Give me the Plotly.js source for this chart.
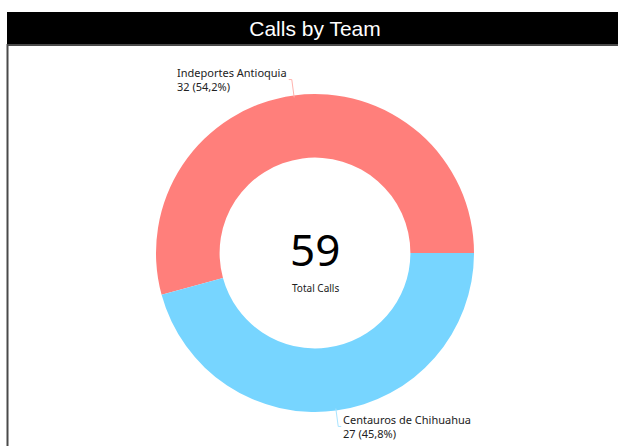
<!DOCTYPE html>
<html><head><meta charset="utf-8">
<script src="https://cdn.plot.ly/plotly-3.0.1.min.js"></script>
<style>html,body{margin:0;padding:0;background:#fff;overflow:hidden}#chart{width:618px;height:446px}</style>
</head><body><div id="chart"></div>
<script>
const teams = ["Indeportes Antioquia", "Centauros de Chihuahua"];
const calls = [32, 27];
const sliceColors = ["#FF7F7B", "#77D5FF"];
const lineColors = ["#FFB3AE", "#A9E4FF"];
const titleText = "Calls by Team";
const centerLabel = "Total Calls";

const W = 618, H = 446;
const cx = 315, cy = 253, R = 159;
const total = calls.reduce((a, b) => a + b, 0);
const fmtPct = v => (100 * v / total).toFixed(1).replace(".", ",") + "%";

const trace = {
  type: "pie",
  labels: teams,
  values: calls,
  hole: 0.6,
  sort: false,
  direction: "clockwise",
  rotation: 90 - 360 * calls[0] / total,
  marker: {colors: sliceColors, line: {width: 0}},
  textinfo: "none",
  hoverinfo: "none",
  showlegend: false,
  domain: {x: [(cx - R) / W, (cx + R) / W], y: [(H - cy - R) / H, (H - cy + R) / H]}
};

const px = x => x / W, py = y => 1 - y / H;
const shapes = [
  {type: "rect", xref: "paper", yref: "paper", x0: px(7), x1: 1.05, y0: py(45), y1: py(12),
   line: {width: 0}, fillcolor: "#000", layer: "below"},
  {type: "rect", xref: "paper", yref: "paper", x0: px(7.5), x1: 1.05, y0: -0.05, y1: py(45),
   line: {color: "#4a4a4a", width: 2}, fillcolor: "rgba(0,0,0,0)", layer: "above"}
];
const annotations = [
  {text: String(total), x: px(cx), y: py(249), xref: "paper", yref: "paper",
   showarrow: false, font: {family: "Noto Sans", size: 44, color: "#000"}, yanchor: "middle"},
  {text: centerLabel, x: px(cx), y: py(288), xref: "paper", yref: "paper",
   showarrow: false, font: {family: "Noto Sans", size: 10, color: "#222"}, yanchor: "middle"}
];

// outside labels with connector lines at each slice's mid-angle
let cum = 0;
calls.forEach((v, i) => {
  const mid = 2 * Math.PI * (cum + v / 2) / total; // ccw from 3 o'clock
  cum += v;
  const c = Math.cos(mid), s = Math.sin(mid);
  const x1 = cx + (R - 2) * c, y1 = cy - (R - 2) * s;
  const x2 = cx + (R + 16) * c, y2 = cy - (R + 16) * s;
  const side = c < 0 ? -1 : 1;
  const x3 = x2 + side * 3;
  shapes.push({type: "path", xref: "paper", yref: "paper",
    path: `M${px(x1)},${py(y1)} L${px(x2)},${py(y2)} L${px(x3)},${py(y2)}`,
    line: {color: lineColors[i], width: 1}, layer: "above"});
  annotations.push({text: teams[i] + "<br>" + v + " (" + fmtPct(v) + ")",
    x: px(x3), y: py(y2), xref: "paper", yref: "paper", showarrow: false,
    xanchor: side < 0 ? "right" : "left", yanchor: "middle", align: "left",
    font: {family: "Noto Sans", size: 11, color: "#222"}});
});

const layout = {
  width: W, height: H,
  margin: {l: 0, r: 0, t: 0, b: 0},
  paper_bgcolor: "#fff",
  title: {
    text: titleText,
    font: {family: "Liberation Sans", size: 21, color: "#fff"},
    x: px(cx), xanchor: "center", xref: "paper",
    y: 1 - 29 / H, yanchor: "middle", yref: "container"
  },
  shapes: shapes,
  annotations: annotations
};

Plotly.newPlot("chart", [trace], layout, {displayModeBar: false, staticPlot: true});
</script></body></html>
